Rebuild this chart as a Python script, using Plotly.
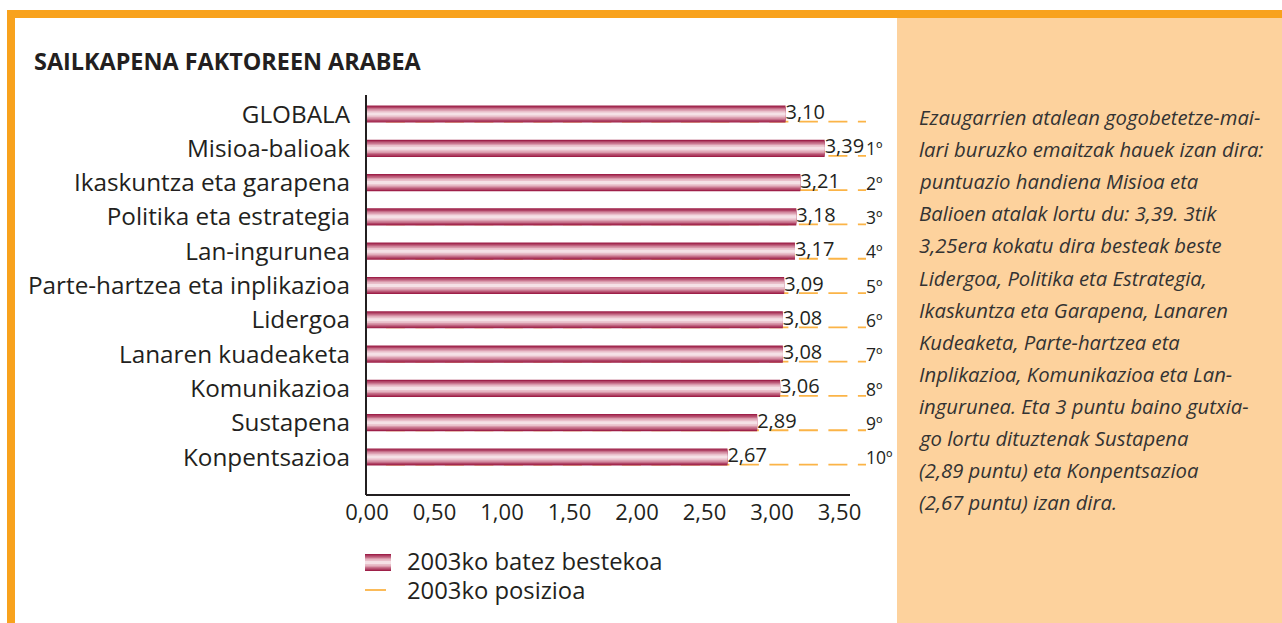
import plotly.graph_objects as go

# ---------------- data ----------------
CATEGORIES = ["GLOBALA", "Misioa-balioak", "Ikaskuntza eta garapena", "Politika eta estrategia",
              "Lan-ingurunea", "Parte-hartzea eta inplikazioa", "Lidergoa", "Lanaren kuadeaketa",
              "Komunikazioa", "Sustapena", "Konpentsazioa"]
VALUES = [3.10, 3.39, 3.21, 3.18, 3.17, 3.09, 3.08, 3.08, 3.06, 2.89, 2.67]
RANKS = ["", "1º", "2º", "3º", "4º", "5º", "6º", "7º", "8º", "9º", "10º"]
TICK_VALUES = [0, 0.5, 1.0, 1.5, 2.0, 2.5, 3.0, 3.5]
TICK_LABELS = ["0,00", "0,50", "1,00", "1,50", "2,00", "2,50", "3,00", "3,50"]
SERIES_NAMES = ["2003ko batez bestekoa", "2003ko posizioa"]
TITLE = "SAILKAPENA FAKTOREEN ARABEA"
SIDE_TEXT = [
    "Ezaugarrien atalean gogobetetze-mai-",
    "lari buruzko emaitzak hauek izan dira:",
    "puntuazio handiena Misioa eta",
    "Balioen atalak lortu du: 3,39. 3tik",
    "3,25era kokatu dira besteak beste",
    "Lidergoa, Politika eta Estrategia,",
    "Ikaskuntza eta Garapena, Lanaren",
    "Kudeaketa, Parte-hartzea eta",
    "Inplikazioa, Komunikazioa eta Lan-",
    "ingurunea. Eta 3 puntu baino gutxia-",
    "go lortu dituztenak Sustapena",
    "(2,89 puntu) eta Konpentsazioa",
    "(2,67 puntu) izan dira.",
]

# ---------------- layout constants ----------------
W, H = 1282, 623
FONT = "Open Sans"
TXT = "#231F20"
ORANGE = "#F8A21D"
PEACH = "#FDD29D"
DASH_COL = "#FBB447"
GRAD = [("#9E2049", 0.50), ("#B04466", 0.43), ("#C56E88", 0.35),
        ("#D999AB", 0.27), ("#E9BFCA", 0.19), ("#F5E1E6", 0.09)]

X0_PX, X1_PX = 367, 885
PX_PER_UNIT = 135.0
XMAX = (X1_PX - X0_PX) / PX_PER_UNIT
Y_TOP_PX, Y_BOT_PX = 95, 495
YRANGE = [-1.108, 10.554]
DASH_START, DASH_END = 0.14, (866 - X0_PX) / PX_PER_UNIT


def fx(px):
    return px / W


def fy(py):
    return 1 - py / H


n = len(CATEGORIES)
ypos = [n - 1 - i for i in range(n)]

fig = go.Figure()

# dashed position lines (underneath bars: on base subplot)
for i in range(n):
    fig.add_trace(go.Scatter(
        x=[DASH_START, DASH_END], y=[ypos[i] - 0.22] * 2, mode="lines",
        line=dict(color=DASH_COL, width=1.8, dash="19px,10.5px"),
        showlegend=False, hoverinfo="skip", xaxis="x", yaxis="y"))

# gradient bars (overlaid subplot, drawn above the dashes)
for col, w in GRAD:
    fig.add_trace(go.Bar(
        x=VALUES, y=ypos, orientation="h", width=w,
        marker=dict(color=col, line=dict(width=0)),
        showlegend=False, hoverinfo="skip", xaxis="x2", yaxis="y2"))

# value labels
fig.add_trace(go.Scatter(
    x=VALUES, y=ypos, mode="text",
    text=[f"{v:.2f}".replace(".", ",") for v in VALUES],
    textposition="middle right", textfont=dict(family=FONT, size=20, color=TXT),
    showlegend=False, hoverinfo="skip", xaxis="x2", yaxis="y2", cliponaxis=False))

# rank labels
fig.add_trace(go.Scatter(
    x=[DASH_END] * n, y=[p - 0.08 for p in ypos], mode="text", text=RANKS,
    textposition="middle right", textfont=dict(family=FONT, size=17.5, color=TXT),
    showlegend=False, hoverinfo="skip", xaxis="x2", yaxis="y2", cliponaxis=False))

xdom = [fx(X0_PX), fx(X1_PX)]
ydom = [fy(Y_BOT_PX), fy(Y_TOP_PX)]

shapes = [
    # peach side panel
    dict(type="rect", xref="paper", yref="paper", x0=fx(897), x1=1, y0=0, y1=fy(18),
         fillcolor=PEACH, line=dict(width=0), layer="below"),
    # orange frame top and left
    dict(type="rect", xref="paper", yref="paper", x0=fx(7), x1=1, y0=fy(18), y1=fy(10),
         fillcolor=ORANGE, line=dict(width=0), layer="below"),
    dict(type="rect", xref="paper", yref="paper", x0=fx(7), x1=fx(15), y0=0, y1=fy(10),
         fillcolor=ORANGE, line=dict(width=0), layer="below"),
    # bottom axis line
    dict(type="line", xref="paper", yref="paper", x0=fx(366), x1=fx(850),
         y0=fy(Y_BOT_PX), y1=fy(Y_BOT_PX), line=dict(color=TXT, width=2)),
]

# legend swatch (gradient) and line sample
LX0, LX1, LY0, LY1 = 365, 391, 554, 571
mid = (LY0 + LY1) / 2
for col, w in GRAD:
    half = (LY1 - LY0) / 2 * (w / GRAD[0][1])
    shapes.append(dict(type="rect", xref="paper", yref="paper", x0=fx(LX0), x1=fx(LX1),
                       y0=fy(mid + half), y1=fy(mid - half), fillcolor=col, line=dict(width=0)))
shapes.append(dict(type="line", xref="paper", yref="paper", x0=fx(365), x1=fx(386),
                   y0=fy(590), y1=fy(590), line=dict(color=DASH_COL, width=1.8)))

annotations = [
    dict(text=f"<b>{TITLE}</b>", x=fx(32), y=fy(61), xref="paper", yref="paper",
         xanchor="left", yanchor="middle", showarrow=False,
         font=dict(family=FONT, size=23.4, color=TXT)),
    dict(text=SERIES_NAMES[0], x=fx(405), y=fy(561), xref="paper", yref="paper",
         xanchor="left", yanchor="middle", showarrow=False,
         font=dict(family=FONT, size=23.8, color=TXT)),
    dict(text=SERIES_NAMES[1], x=fx(405), y=fy(590), xref="paper", yref="paper",
         xanchor="left", yanchor="middle", showarrow=False,
         font=dict(family=FONT, size=23.8, color=TXT)),
]
for k, line in enumerate(SIDE_TEXT):
    annotations.append(dict(text=f"<i>{line}</i>", x=fx(917), y=fy(117 + k * 32.1),
                            xref="paper", yref="paper", xanchor="left", yanchor="middle",
                            showarrow=False, font=dict(family=FONT, size=20.3, color="#333333")))

fig.update_layout(
    width=W, height=H, margin=dict(l=0, r=0, t=0, b=0, autoexpand=False),
    paper_bgcolor="white", plot_bgcolor="rgba(0,0,0,0)",
    barmode="overlay", showlegend=False,
    xaxis=dict(domain=xdom, range=[0, XMAX], tickvals=TICK_VALUES, ticktext=TICK_LABELS,
               showgrid=False, zeroline=False, showline=False, ticks="", automargin=False,
               tickfont=dict(family=FONT, size=22, color=TXT), ticklabelstandoff=2),
    yaxis=dict(domain=ydom, range=YRANGE, tickvals=ypos, ticktext=CATEGORIES,
               showgrid=False, zeroline=False, showline=True, linecolor=TXT, linewidth=2,
               ticks="", automargin=False, tickfont=dict(family=FONT, size=24.3, color=TXT),
               ticklabelstandoff=10),
    xaxis2=dict(overlaying="x", range=[0, XMAX], visible=False),
    yaxis2=dict(overlaying="y", range=YRANGE, visible=False),
    shapes=shapes, annotations=annotations,
)

fig.write_html("out.html")
